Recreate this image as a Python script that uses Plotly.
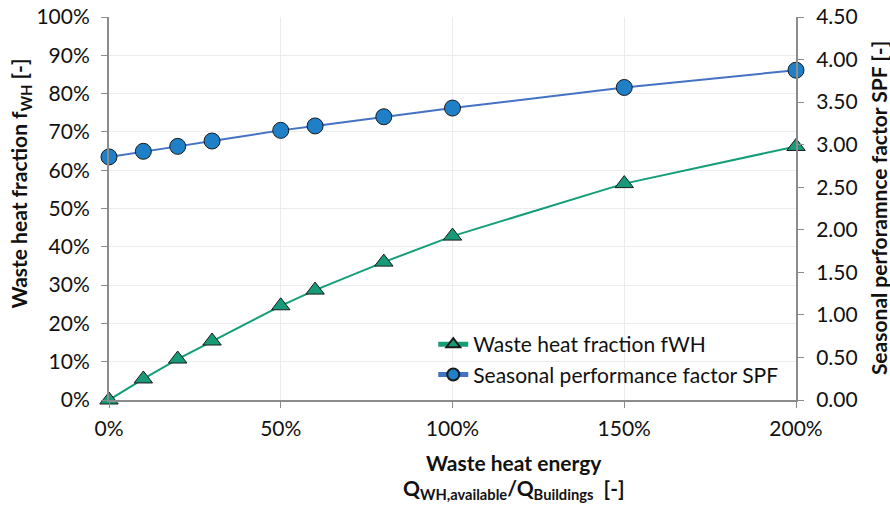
import plotly.graph_objects as go

x_ratio = [0.0, 0.1, 0.2, 0.3, 0.5, 0.6, 0.8, 1.0, 1.5, 2.0]
f_wh = [0.0, 0.055, 0.107, 0.154, 0.246, 0.287, 0.360, 0.428, 0.565, 0.662]
spf = [2.856, 2.922, 2.98, 3.043, 3.168, 3.22, 3.328, 3.43, 3.672, 3.875]

FONT = "Lato"
green = "#149e78"
green_fill = "#179a78"
blue_line = "#4472c4"
blue_fill = "#1f80c8"
axis_col = "#8c8c8c"
grid_col = "#ececec"
txt = "#111111"

fig = go.Figure()
fig.add_trace(go.Scatter(
    x=x_ratio, y=f_wh, name="Waste heat fraction fWH", mode="lines+markers",
    line=dict(color=green, width=2),
    marker=dict(symbol="triangle-up", size=16, color=green_fill, line=dict(color="#1a1a1a", width=1)),
    cliponaxis=False, yaxis="y"))
fig.add_trace(go.Scatter(
    x=x_ratio, y=spf, name="Seasonal performance factor SPF", mode="lines+markers",
    line=dict(color=blue_line, width=2),
    marker=dict(symbol="circle", size=16, color=blue_fill, line=dict(color="#1a1a1a", width=1)),
    cliponaxis=False, yaxis="y2"))

axis_common = dict(showline=True, linecolor=axis_col, linewidth=2,
                   ticks="outside", ticklen=6, tickcolor=axis_col, zeroline=False,
                   automargin=False, tickfont=dict(size=21, family=FONT, color=txt))

fig.update_layout(
    width=890, height=508,
    margin=dict(l=109, r=94, t=17, b=108),
    paper_bgcolor="white", plot_bgcolor="white",
    font=dict(family=FONT, size=21, color=txt),
    showlegend=True,
    legend=dict(x=0.472, y=0.013, xanchor="left", yanchor="bottom",
                bgcolor="rgba(255,255,255,0)", font=dict(size=21, family=FONT, color=txt),
                tracegroupgap=0, itemsizing="constant"),
    xaxis=dict(range=[0, 2], tickvals=[0, 0.5, 1.0, 1.5, 2.0], tickformat=".0%",
               showgrid=True, gridcolor=grid_col, gridwidth=1, ticklabelstandoff=3, **axis_common),
    yaxis=dict(range=[0, 1], dtick=0.1, tickformat=".0%",
               showgrid=True, gridcolor=grid_col, gridwidth=1, ticklabelstandoff=7, **axis_common),
    yaxis2=dict(range=[0, 4.5], dtick=0.5, tickformat=".2f", overlaying="y", side="right",
                showgrid=False, ticklabelstandoff=8, **axis_common),
)

title_font = dict(size=21, family=FONT, color=txt)
fig.add_annotation(text="<b>Waste heat fraction f<sub>WH</sub> [-]</b>", xref="paper", yref="paper",
                   x=0, y=0.565, xanchor="center", yanchor="middle", xshift=-89,
                   textangle=-90, showarrow=False, font=title_font)
fig.add_annotation(text="<b>Seasonal perforamnce factor SPF [-]</b>", xref="paper", yref="paper",
                   x=1, y=0.501, xanchor="center", yanchor="middle", xshift=82,
                   textangle=-90, showarrow=False, font=title_font)
fig.add_annotation(text="<b>Waste heat energy</b>", xref="paper", yref="paper",
                   x=0.589, y=-0.164, xanchor="center", yanchor="middle",
                   showarrow=False, font=title_font)
fig.add_annotation(text="<b>Q<sub>WH,available</sub>/Q<sub>Buildings</sub>  [-]</b>", xref="paper", yref="paper",
                   x=0.589, y=-0.232, xanchor="center", yanchor="middle",
                   showarrow=False, font=title_font)

fig.write_html("out.html", config={"displayModeBar": False},
               post_script="document.body.style.margin='0px';")
